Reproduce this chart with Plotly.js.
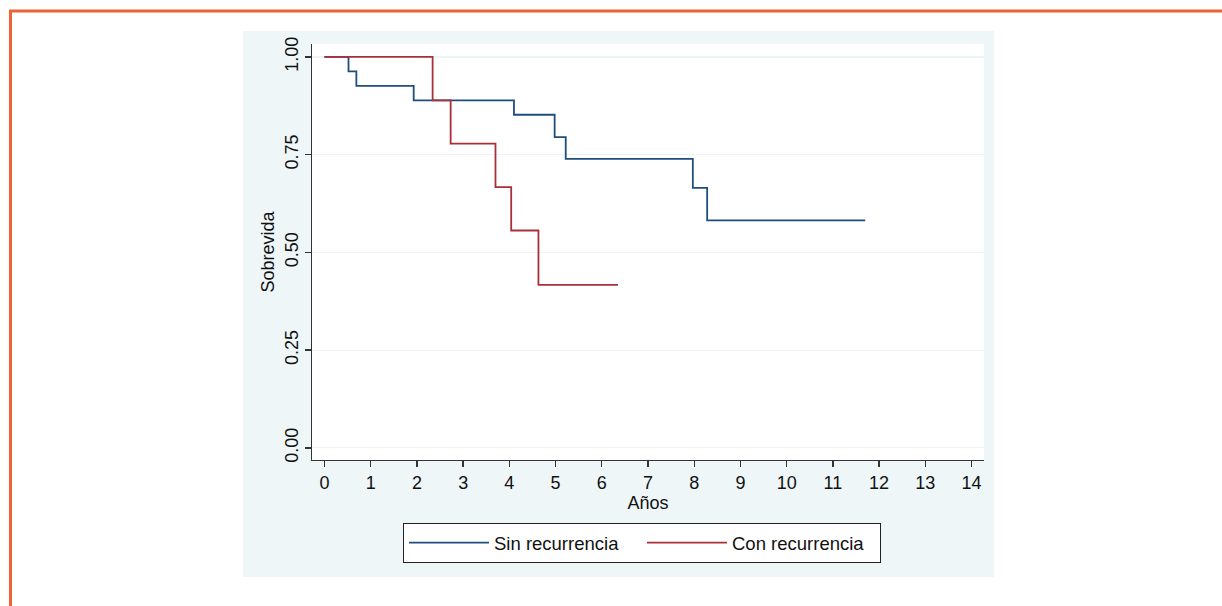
<!DOCTYPE html>
<html>
<head>
<meta charset="utf-8">
<script src="https://cdn.plot.ly/plotly-3.0.1.min.js"></script>
<style>html,body{margin:0;padding:0;background:#fff;}#chart{width:1222px;height:606px;}</style>
</head>
<body>
<div id="chart"></div>
<script>
// Kaplan-Meier step data
const sinTimes = [0, 0.52, 0.69, 1.93, 4.10, 4.98, 5.22, 7.97, 8.28, 11.70];
const sinSurv  = [1.000, 0.963, 0.926, 0.889, 0.852, 0.795, 0.739, 0.665, 0.582, 0.582];
const conTimes = [0, 2.34, 2.73, 3.70, 4.04, 4.63, 6.35];
const conSurv  = [1.000, 0.889, 0.778, 0.667, 0.556, 0.417, 0.417];
const seriesNames = ["Sin recurrencia", "Con recurrencia"];
const xTicks = [0,1,2,3,4,5,6,7,8,9,10,11,12,13,14];
const yTicks = [0, 0.25, 0.5, 0.75, 1];
const yTickText = ["0.00", "0.25", "0.50", "0.75", "1.00"];

const W = 1222, H = 606;
const L = 312, R = 984, T = 44, B = 460;
const pw = R - L, ph = B - T;
const px = v => (v - L) / pw;
const py = v => (B - v) / ph;

const font = "Arial, 'Liberation Sans', sans-serif";

const traces = [
  {x: sinTimes, y: sinSurv, name: seriesNames[0], type: 'scatter', mode: 'lines',
   line: {shape: 'hv', color: '#1f4e7e', width: 1.8}},
  {x: conTimes, y: conSurv, name: seriesNames[1], type: 'scatter', mode: 'lines',
   line: {shape: 'hv', color: '#a8303a', width: 1.8}}
];

const layout = {
  width: W, height: H,
  margin: {l: L, r: W - R, t: T, b: H - B, pad: 0},
  paper_bgcolor: '#ffffff',
  plot_bgcolor: '#ffffff',
  font: {family: font, size: 18, color: '#111'},
  showlegend: true,
  legend: {
    orientation: 'h', x: px(403), xanchor: 'left', y: py(523), yanchor: 'top',
    bgcolor: '#ffffff', bordercolor: '#222', borderwidth: 1,
    font: {family: font, size: 18.5, color: '#111'},
    itemwidth: 80, entrywidth: 143, traceorder: 'normal'
  },
  xaxis: {
    range: [-0.27, 14.27], tickvals: xTicks, ticktext: xTicks.map(String),
    showgrid: false, zeroline: false, showline: true, linecolor: '#333', linewidth: 1.3,
    ticks: 'outside', ticklen: 6, tickwidth: 1.3, tickcolor: '#333',
    tickfont: {family: font, size: 18, color: '#111'},
    title: {text: 'Años', font: {family: font, size: 18, color: '#111'}, standoff: 4},
    fixedrange: true
  },
  yaxis: {
    range: [-0.031, 1.033], tickvals: yTicks, ticktext: yTickText, tickangle: -90,
    showgrid: true, gridcolor: '#edf4f6', gridwidth: 1.2, zeroline: false,
    showline: true, linecolor: '#333', linewidth: 1.3,
    ticks: 'outside', ticklen: 6, tickwidth: 1.3, tickcolor: '#333',
    tickfont: {family: font, size: 18, color: '#111'},
    title: {text: 'Sobrevida', font: {family: font, size: 18, color: '#111'}, standoff: 2},
    fixedrange: true
  },
  shapes: [
    // light blue panel behind the chart
    {type: 'rect', xref: 'paper', yref: 'paper', layer: 'below',
     x0: px(243), x1: px(994), y0: py(577), y1: py(31),
     fillcolor: '#eef6f8', line: {width: 0}},
    // white plot region
    {type: 'rect', xref: 'paper', yref: 'paper', layer: 'below',
     x0: 0, x1: 1, y0: 0, y1: 1,
     fillcolor: '#ffffff', line: {width: 0}},
    // orange frame (top and left)
    {type: 'line', xref: 'paper', yref: 'paper', layer: 'above',
     x0: px(9), x1: px(1222), y0: py(11), y1: py(11),
     line: {color: '#ec6335', width: 3}},
    {type: 'line', xref: 'paper', yref: 'paper', layer: 'above',
     x0: px(10.5), x1: px(10.5), y0: py(11), y1: py(606),
     line: {color: '#ec6335', width: 3}}
  ]
};

Plotly.newPlot('chart', traces, layout, {displayModeBar: false, staticPlot: true});
</script>
</body>
</html>
